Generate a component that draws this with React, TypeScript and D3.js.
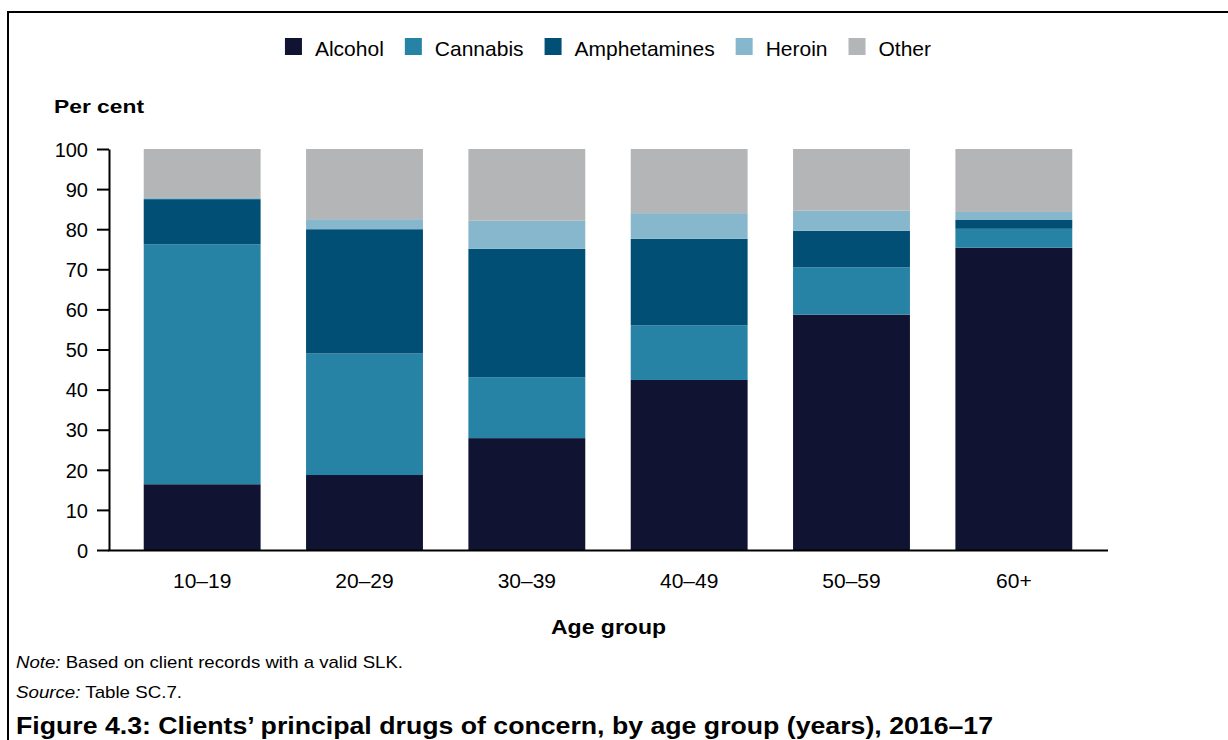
import React, { useRef, useEffect } from 'react';
import * as d3 from 'd3';

const ageGroups = ["10–19", "20–29", "30–39", "40–49", "50–59", "60+"];
const seriesNames = ["Alcohol", "Cannabis", "Amphetamines", "Heroin", "Other"];
const alcohol = [16.4, 18.7, 27.9, 42.4, 58.7, 75.4];
const cannabis = [59.8, 30.3, 15.2, 13.6, 11.8, 4.7];
const amphetamines = [11.3, 31.0, 32.0, 21.6, 9.1, 2.2];
const heroin = [0.3, 2.5, 7.0, 6.4, 5.0, 2.0];
const other = [12.2, 17.5, 17.9, 16.0, 15.4, 15.7];
const yTicks = [0, 10, 20, 30, 40, 50, 60, 70, 80, 90, 100];
const colors = ["#101432", "#2683a6", "#024f75", "#87b7cc", "#b4b5b7"];

const App: React.FC = () => {
  const svgRef = useRef<SVGSVGElement | null>(null);

  useEffect(() => {
    const width = 1228;
    const height = 740;
    const font = "Arial, 'Liberation Sans', sans-serif";

    const svg = d3.select(svgRef.current);
    svg.selectAll("*").remove();
    svg.attr("width", width).attr("height", height);

    // frame (runs off the right and bottom edges)
    svg.append("rect")
      .attr("x", 8).attr("y", 12)
      .attr("width", 1400).attr("height", 900)
      .attr("fill", "white")
      .attr("stroke", "#000").attr("stroke-width", 2);

    const rows = ageGroups.map((g, i) => ({
      group: g,
      Alcohol: alcohol[i],
      Cannabis: cannabis[i],
      Amphetamines: amphetamines[i],
      Heroin: heroin[i],
      Other: other[i],
    }));

    const stacked = d3.stack<any>().keys(seriesNames)(rows);

    const x = d3.scaleBand()
      .domain(ageGroups)
      .range([121, 1095])
      .paddingInner(0.28)
      .paddingOuter(0.14);

    const y = d3.scaleLinear().domain([0, 100]).range([550, 149]);

    const color = d3.scaleOrdinal<string>().domain(seriesNames).range(colors);

    // Bars
    svg.append("g")
      .selectAll("g")
      .data(stacked)
      .join("g")
      .attr("fill", d => color(d.key))
      .selectAll("rect")
      .data(d => d)
      .join("rect")
      .attr("x", d => x(d.data.group)!)
      .attr("y", d => y(d[1]))
      .attr("width", x.bandwidth())
      .attr("height", d => y(d[0]) - y(d[1]));

    // Y Axis
    const yAxis = svg.append("g")
      .attr("transform", "translate(109,0)")
      .call(d3.axisLeft(y).tickValues(yTicks).tickSize(12).tickPadding(9).tickSizeOuter(0));
    yAxis.select(".domain").attr("stroke", "#000").attr("stroke-width", 2);
    yAxis.selectAll(".tick line").attr("stroke", "#000").attr("stroke-width", 2);
    yAxis.selectAll(".tick text")
      .attr("font-family", font).attr("font-size", 20).attr("fill", "#000")
      .attr("dy", "0.36em");

    // X Axis
    const xAxis = svg.append("g")
      .attr("transform", "translate(0,550.5)")
      .call(d3.axisBottom(x).tickSize(0).tickPadding(22).tickSizeOuter(0));
    xAxis.select(".domain").attr("d", "M108,0H1108").attr("stroke", "#000").attr("stroke-width", 2);
    xAxis.selectAll(".tick text")
      .attr("font-family", font).attr("font-size", 21).attr("fill", "#000")
      .attr("dy", "0.75em");

    // Axis titles
    svg.append("text")
      .attr("x", 54).attr("y", 113)
      .attr("font-family", font).attr("font-size", 19).attr("font-weight", "bold")
      .attr("textLength", 90).attr("lengthAdjust", "spacingAndGlyphs")
      .text("Per cent");

    svg.append("text")
      .attr("x", 551).attr("y", 634)
      .attr("font-family", font).attr("font-size", 20).attr("font-weight", "bold")
      .attr("textLength", 115).attr("lengthAdjust", "spacingAndGlyphs")
      .text("Age group");

    // Legend
    const legend = svg.append("g");
    let lx = 0;
    seriesNames.forEach((name) => {
      const g = legend.append("g").attr("transform", `translate(${lx},0)`);
      g.append("rect")
        .attr("x", 0).attr("y", 38)
        .attr("width", 17).attr("height", 17)
        .attr("fill", color(name));
      const t = g.append("text")
        .attr("x", 30).attr("y", 56)
        .attr("font-family", font).attr("font-size", 21).attr("fill", "#000")
        .text(name);
      const w = (t.node() as SVGTextElement).getComputedTextLength();
      lx += 30 + w + 21;
    });
    const legendWidth = lx - 21;
    legend.attr("transform", `translate(${608 - legendWidth / 2},0)`);

    // Notes
    const note = svg.append("text")
      .attr("x", 16).attr("y", 668)
      .attr("font-family", font).attr("font-size", 17).attr("fill", "#000")
      .attr("textLength", 387).attr("lengthAdjust", "spacingAndGlyphs");
    note.append("tspan").attr("font-style", "italic").text("Note:");
    note.append("tspan").text(" Based on client records with a valid SLK.");

    const source = svg.append("text")
      .attr("x", 16).attr("y", 698)
      .attr("font-family", font).attr("font-size", 17).attr("fill", "#000")
      .attr("textLength", 166).attr("lengthAdjust", "spacingAndGlyphs");
    source.append("tspan").attr("font-style", "italic").text("Source:");
    source.append("tspan").text(" Table SC.7.");

    svg.append("text")
      .attr("x", 16).attr("y", 734)
      .attr("font-family", font).attr("font-size", 23).attr("font-weight", "bold")
      .attr("fill", "#000")
      .attr("textLength", 977).attr("lengthAdjust", "spacingAndGlyphs")
      .text("Figure 4.3: Clients’ principal drugs of concern, by age group (years), 2016–17");
  }, []);

  return (
    <div style={{ position: "absolute", left: 0, top: 0, width: 1228, height: 740, overflow: "hidden" }}>
      <svg ref={svgRef} style={{ display: "block" }}></svg>
    </div>
  );
};

export default App;
